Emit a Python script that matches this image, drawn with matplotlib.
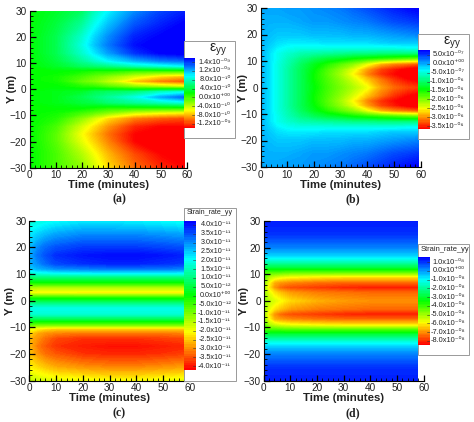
import numpy as np
import matplotlib
matplotlib.use("Agg")
import matplotlib.pyplot as plt
from matplotlib.colors import LinearSegmentedColormap
from matplotlib.patches import Rectangle
from matplotlib.ticker import MultipleLocator

plt.rcParams['font.family'] = ['Liberation Sans', 'DejaVu Sans']
plt.rcParams['mathtext.fontset'] = 'custom'
plt.rcParams['mathtext.rm'] = 'Liberation Sans'
plt.rcParams['mathtext.default'] = 'rm'

W, H = 474, 422

# panel a, values in 1e-10
time_a = [0, 10, 20, 25, 30, 40, 50, 59]
y_a = [30, 25, 20, 17, 14, 11, 9, 7, 5, 3, 1, -1, -3, -5, -7, -9, -11, -14, -17, -20, -25, -30]
values_a = [
    [1, 2, 3.5, 6, 8, 11, 13, 14],
    [1, 2.5, 5, 7.5, 9.5, 12.5, 14, 15],
    [1, 3, 6.5, 9, 11, 14, 15, 15.5],
    [1, 3, 7, 9.5, 11.5, 14.5, 15.5, 15.5],
    [1, 3, 6.5, 8.5, 10.5, 13.5, 15, 15.5],
    [1, 2.5, 5, 6.5, 8, 10, 11.5, 12],
    [1, 2, 3.5, 4, 4.5, 6, 7, 8],
    [1, 1, 0.5, 0, 0, -1, -1, -1],
    [1, 0.5, -1, -2, -3, -5, -7, -8],
    [1, 0.5, -2, -3, -4.5, -8, -10, -11],
    [1, 1, 0, -0.5, -1.5, -3, -4, -5],
    [1, 1.5, 2, 3, 3.5, 4, 6, 7],
    [1, 1.5, 3, 4, 5, 7, 10, 12],
    [1, 1.5, 2.5, 3, 4, 5, 6, 7],
    [1, 1, 1, 0.5, 0, 0, 0, 0],
    [1, 0.5, -1, -2, -3, -5, -6, -6.5],
    [1, 0, -3, -5, -7, -9.5, -10.5, -11],
    [1, -1, -5, -7, -9, -12, -13, -13],
    [1, -1.5, -6, -8, -10, -13, -14, -14],
    [1, -1.5, -5.5, -7.5, -9.5, -13, -14, -14],
    [1, -1, -4, -6, -8, -11, -13, -14],
    [1, -1, -3, -5, -7, -10, -12, -13],
]
labels_a = ['1.4x10⁻⁰⁹', '1.2x10⁻⁰⁹', '8.0x10⁻¹⁰', '4.0x10⁻¹⁰', '0.0x10⁺⁰⁰',
            '-4.0x10⁻¹⁰', '-8.0x10⁻¹⁰', '-1.2x10⁻⁰⁹']

# panel b, values in 1e-6
time_b = [0, 3, 6, 10, 15, 20, 25, 30, 35, 40, 45, 50, 55, 59]
y_b = [30, 25, 20, 17, 15, 13, 11, 9, 7, 5, 3, 0, -3, -5, -7, -9, -11, -13, -15, -17, -20, -25, -30]
values_b = [
    [.15, .15, .15, .2, .2, .25, .3, .35, .45, .55, .65, .75, .85, .9],
    [.1, .1, .1, .1, .15, .2, .2, .25, .3, .35, .45, .55, .6, .65],
    [.1, .05, 0, 0, 0, .05, .05, .05, .1, .1, .15, .2, .25, .3],
    [.1, 0, -.1, -.15, -.15, -.15, -.1, -.1, -.1, -.1, -.05, 0, 0, 0],
    [.1, -.05, -.2, -.3, -.35, -.35, -.35, -.35, -.35, -.35, -.35, -.35, -.3, -.3],
    [.1, -.1, -.3, -.45, -.6, -.65, -.7, -.75, -.8, -.8, -.85, -.85, -.85, -.85],
    [.1, -.1, -.3, -.55, -.8, -1.0, -1.15, -1.25, -1.4, -1.5, -1.6, -1.7, -1.8, -1.85],
    [.1, -.1, -.35, -.6, -.95, -1.25, -1.5, -1.75, -2.0, -2.4, -2.8, -3.0, -3.1, -3.2],
    [.1, -.1, -.35, -.65, -1.0, -1.35, -1.7, -2.0, -2.4, -2.9, -3.3, -3.5, -3.7, -3.8],
    [.1, -.1, -.35, -.65, -1.0, -1.4, -1.75, -2.1, -2.55, -3.05, -3.4, -3.6, -3.8, -3.9],
    [.1, -.1, -.35, -.65, -1.0, -1.4, -1.7, -2.0, -2.35, -2.75, -3.1, -3.4, -3.6, -3.7],
    [.1, -.1, -.35, -.65, -1.0, -1.35, -1.65, -1.9, -2.15, -2.45, -2.9, -3.15, -3.3, -3.35],
    [.1, -.1, -.35, -.65, -1.0, -1.4, -1.7, -2.0, -2.35, -2.75, -3.1, -3.4, -3.6, -3.7],
    [.1, -.1, -.35, -.65, -1.0, -1.4, -1.75, -2.1, -2.55, -3.05, -3.4, -3.6, -3.8, -3.9],
    [.1, -.1, -.35, -.65, -1.0, -1.35, -1.7, -2.0, -2.4, -2.9, -3.3, -3.5, -3.7, -3.8],
    [.1, -.1, -.35, -.6, -.95, -1.25, -1.5, -1.75, -2.0, -2.4, -2.8, -3.0, -3.1, -3.2],
    [.1, -.1, -.3, -.55, -.8, -1.0, -1.15, -1.25, -1.4, -1.5, -1.6, -1.7, -1.8, -1.85],
    [.1, -.1, -.3, -.45, -.6, -.65, -.7, -.75, -.8, -.8, -.85, -.85, -.85, -.85],
    [.1, -.05, -.2, -.3, -.35, -.35, -.35, -.35, -.35, -.35, -.35, -.35, -.3, -.3],
    [.1, 0, -.1, -.15, -.15, -.15, -.1, -.1, -.1, -.1, -.05, 0, 0, 0],
    [.1, .05, 0, 0, 0, .05, .05, .05, .1, .1, .15, .2, .25, .3],
    [.1, .1, .1, .1, .15, .2, .2, .25, .3, .35, .45, .55, .6, .65],
    [.15, .15, .15, .2, .2, .25, .3, .35, .45, .55, .65, .75, .85, .9],
]
labels_b = ['5.0x10⁻⁰⁷', '0.0x10⁺⁰⁰', '-5.0x10⁻⁰⁷', '-1.0x10⁻⁰⁶', '-1.5x10⁻⁰⁶',
            '-2.0x10⁻⁰⁶', '-2.5x10⁻⁰⁶', '-3.0x10⁻⁰⁶', '-3.5x10⁻⁰⁶']

# panel c, values in 1e-11
time_c = [0, 3, 6, 10, 20, 30, 40, 50, 58]
y_c = [30, 25, 20, 17, 14, 12, 10.5, 9, 7, 5, 3, 1, -1, -3, -5, -7, -9, -10.5, -12, -14, -17, -20, -25, -30]
values_c = [
    [1.6, 1.8, 1.9, 2, 2.2, 2.2, 2.1, 2, 1.9],
    [2.2, 2.4, 2.6, 2.8, 3, 3, 3, 2.9, 2.8],
    [2.6, 3, 3.3, 3.5, 3.7, 3.7, 3.7, 3.6, 3.5],
    [2.7, 3.2, 3.5, 3.8, 4, 4.1, 4.1, 4, 3.9],
    [2.7, 3, 3.3, 3.6, 3.8, 3.9, 3.9, 3.8, 3.7],
    [2.4, 2.7, 2.8, 3, 3.1, 3.2, 3.2, 3.2, 3.1],
    [1.7, 1.9, 2, 2.1, 2.2, 2.2, 2.2, 2.2, 2.2],
    [.9, 1, 1, 1, 1, 1, 1, 1, 1],
    [-.1, 0, 0, 0, 0, 0, 0, 0, 0],
    [-1.4, -1.5, -1.5, -1.5, -1.5, -1.5, -1.5, -1.5, -1.5],
    [-2.1, -2.2, -2.2, -2.2, -2.3, -2.3, -2.3, -2.3, -2.3],
    [-.3, -.3, -.3, -.3, -.3, -.3, -.3, -.3, -.3],
    [1, 1, 1, 1, 1, 1, 1, 1, 1],
    [1.9, 1.9, 1.9, 1.9, 1.9, 1.9, 1.9, 1.9, 1.9],
    [1.6, 1.7, 1.7, 1.7, 1.7, 1.7, 1.7, 1.7, 1.7],
    [.5, .5, .5, .5, .5, .5, .5, .5, .5],
    [-.8, -1, -1, -1, -1, -1, -1, -1, -1],
    [-2, -2.2, -2.4, -2.5, -2.5, -2.5, -2.5, -2.5, -2.5],
    [-2.4, -2.8, -3, -3.1, -3.2, -3.2, -3.2, -3.2, -3.1],
    [-2.7, -3, -3.3, -3.6, -3.8, -3.8, -3.8, -3.7, -3.6],
    [-2.7, -3.2, -3.5, -3.8, -4, -4.1, -4.1, -4, -3.9],
    [-2.6, -3, -3.3, -3.5, -3.8, -3.9, -3.9, -3.8, -3.7],
    [-2.2, -2.4, -2.6, -2.8, -3, -3.1, -3.1, -3, -2.9],
    [-1.6, -1.7, -1.8, -1.9, -2, -2.1, -2.1, -2, -1.9],
]
labels_c = ['4.0x10⁻¹¹', '3.5x10⁻¹¹', '3.0x10⁻¹¹', '2.5x10⁻¹¹', '2.0x10⁻¹¹',
            '1.5x10⁻¹¹', '1.0x10⁻¹¹', '5.0x10⁻¹²', '0.0x10⁺⁰⁰', '-5.0x10⁻¹²',
            '-1.0x10⁻¹¹', '-1.5x10⁻¹¹', '-2.0x10⁻¹¹', '-2.5x10⁻¹¹', '-3.0x10⁻¹¹',
            '-3.5x10⁻¹¹', '-4.0x10⁻¹¹']

# panel d, values in 1e-8
time_d = [0, 2, 4, 6, 8, 10, 20, 30, 40, 50, 58]
y_d = [30, 25, 20, 17, 15, 13, 11, 9, 7, 5, 3, 0, -3, -5, -7, -9, -11, -13, -15, -17, -20, -25, -30]
values_d = [
    [1.2] * 11,
    [1.0] * 11,
    [.2] * 11,
    [-.6] * 11,
    [-1.5] * 11,
    [-2.7] * 11,
    [-4.2, -4.2, -4.2, -4.2, -4.3, -4.3, -4.3, -4.3, -4.3, -4.3, -4.3],
    [-4.3, -5.3, -5.6, -5.8, -5.9, -6, -6.2, -6.3, -6.3, -6.3, -6.3],
    [-4.8, -6, -6.8, -7, -7.1, -7.2, -7.4, -7.5, -7.5, -7.5, -7.5],
    [-5, -6.3, -7.1, -7.5, -7.7, -7.8, -8, -8.2, -8.3, -8.3, -8.3],
    [-4.9, -5.8, -6.3, -6.6, -6.8, -7, -7.3, -7.4, -7.5, -7.5, -7.5],
    [-4.8, -5.4, -5.7, -5.95, -6.2, -6.4, -6.8, -7, -7.1, -7.1, -7.1],
    [-4.9, -5.8, -6.3, -6.6, -6.8, -7, -7.3, -7.4, -7.5, -7.5, -7.5],
    [-5, -6.3, -7.1, -7.5, -7.7, -7.8, -8, -8.2, -8.3, -8.3, -8.3],
    [-4.8, -6, -6.8, -7, -7.1, -7.2, -7.4, -7.5, -7.5, -7.5, -7.5],
    [-4.3, -5.3, -5.6, -5.8, -5.9, -6, -6.2, -6.3, -6.3, -6.3, -6.3],
    [-4.2, -4.2, -4.2, -4.2, -4.3, -4.3, -4.3, -4.3, -4.3, -4.3, -4.3],
    [-2.7] * 11,
    [-1.5] * 11,
    [-.6] * 11,
    [.2] * 11,
    [1.0] * 11,
    [1.2] * 11,
]
labels_d = ['1.0x10⁻⁰⁸', '0.0x10⁺⁰⁰', '-1.0x10⁻⁰⁸', '-2.0x10⁻⁰⁸', '-3.0x10⁻⁰⁸',
            '-4.0x10⁻⁰⁸', '-5.0x10⁻⁰⁸', '-6.0x10⁻⁰⁸', '-7.0x10⁻⁰⁸', '-8.0x10⁻⁰⁸']

rainbow = LinearSegmentedColormap.from_list('tecplot', ['#ff0000', '#ffff00', '#00ff00', '#00ffff', '#0000ff'])
txt = '#222222'


def rect(l, t, r, b):
    return [l / W, 1 - b / H, (r - l) / W, (b - t) / H]


def ptext(x, y, s, **kw):
    return fig.text(x / W, 1 - y / H, s, **kw)


def panel(box, t, y, z, vmin, vmax, caption, cap_xy, ylab_x):
    ax = fig.add_axes(rect(*box))
    levels = np.linspace(vmin, vmax, 129)
    ax.contourf(t, y, np.array(z), levels=levels, cmap=rainbow, extend='both', antialiased=False)
    ax.set_xlim(0, 60)
    ax.set_ylim(-30, 30)
    ax.xaxis.set_major_locator(MultipleLocator(10))
    ax.xaxis.set_minor_locator(MultipleLocator(2))
    ax.yaxis.set_major_locator(MultipleLocator(10))
    ax.yaxis.set_minor_locator(MultipleLocator(2))
    ax.tick_params(which='major', direction='in', length=4, width=0.9, labelsize=7.2, pad=2, labelcolor=txt)
    ax.tick_params(which='minor', direction='in', length=2, width=0.6)
    ax.spines['top'].set_visible(False)
    ax.spines['right'].set_visible(False)
    ax.set_xlabel('Time (minutes)', fontsize=8.2, fontweight='bold', labelpad=0, color=txt)
    ax.set_ylabel('Y (m)', fontsize=8.2, fontweight='bold', color=txt)
    ax.yaxis.set_label_coords((ylab_x - box[0]) / (box[2] - box[0]), 0.5)
    ptext(cap_xy[0], cap_xy[1], caption, fontsize=8.5, family='Liberation Serif', fontweight='bold',
          ha='center', va='center', color=txt)
    return ax


def legend(box, bar, labels, first, last, x_end, title, title_xy, title_size, label_size):
    fig.add_artist(Rectangle((box[0] / W, 1 - box[3] / H), (box[2] - box[0]) / W, (box[3] - box[1]) / H,
                             transform=fig.transFigure, facecolor='white', edgecolor='#999999', lw=0.7, zorder=5))
    cax = fig.add_axes(rect(*bar), zorder=6)
    ramp = np.linspace(0, 1, 64).reshape(-1, 1)
    cax.pcolormesh([0, 1], np.linspace(0, 1, 65), ramp, cmap=rainbow, vmin=0, vmax=1)
    cax.set_axis_off()
    ys = np.linspace(first, last, len(labels))
    for yy, lab in zip(ys, labels):
        ptext(x_end, yy, lab, fontsize=label_size, ha='right', va='center', color=txt, zorder=7)
        cax.plot([0.75, 1], [1 - (yy - bar[1]) / (bar[3] - bar[1])] * 2, color='#333333', lw=0.4)
    cax.set_xlim(0, 1)
    cax.set_ylim(0, 1)
    ptext(title_xy[0], title_xy[1], title, fontsize=title_size, ha='center', va='center', color=txt, zorder=7)


fig = plt.figure(figsize=(W / 100, H / 100), dpi=100, facecolor='white')

panel((29.5, 11, 187, 167.7), time_a, y_a, values_a, -13, 15, '(a)', (119, 199), 17)
panel((260.7, 8, 420.7, 167), time_b, y_b, values_b, -3.6, 0.9, '(b)', (353, 199), 248)
panel((29.3, 220.7, 190, 380.7), time_c, y_c, values_c, -4.2, 4.2, '(c)', (119, 413), 15)
panel((263.7, 221, 423.7, 380.7), time_d, y_d, values_d, -8.5, 1.5, '(d)', (353, 413), 249)

eps = r'$\mathregular{\varepsilon}_{yy}$'
legend((184, 41, 235, 138), (184, 58, 195, 128), labels_a, 62, 124, 231, eps, (218, 50), 10, 5.3)
legend((418, 34, 469, 139), (418, 50, 430, 129), labels_b, 55, 126, 464.5, eps, (452, 43), 10, 5.3)
legend((184, 208, 236, 381), (184, 221, 196, 370), labels_c, 225, 366, 231, 'Strain_rate_yy', (210, 212.5), 5.1, 5.2)
legend((418, 244, 469, 355), (418, 257, 430, 345), labels_d, 262, 341, 465, 'Strain_rate_yy', (445, 249), 5.4, 5.3)

fig.savefig('out.png', dpi=100)
